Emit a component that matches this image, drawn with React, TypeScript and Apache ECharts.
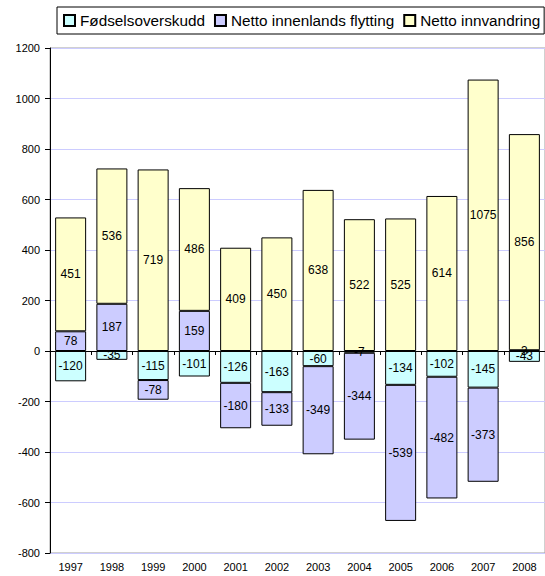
import React, { useEffect, useRef } from "react";
import * as echarts from "echarts";

const years = ["1997", "1998", "1999", "2000", "2001", "2002", "2003", "2004", "2005", "2006", "2007", "2008"];
const fodselsoverskudd = [-120, -35, -115, -101, -126, -163, -60, -7, -134, -102, -145, -43];
const innenlandsFlytting = [78, 187, -78, 159, -180, -133, -349, -344, -539, -482, -373, 3];
const innvandring = [451, 536, 719, 486, 409, 450, 638, 522, 525, 614, 1075, 856];

const seriesNames = ["Fødselsoverskudd", "Netto innenlands flytting", "Netto innvandring"];
const seriesColors = ["#ccffff", "#ccccff", "#ffffcc"];

const FONT = "'Liberation Sans', Arial, sans-serif";

export default function App() {
  const ref = useRef<HTMLDivElement>(null);
  useEffect(() => {
    if (!ref.current) return;
    const chart = echarts.init(ref.current, undefined, { renderer: "svg" });
    const datasets = [fodselsoverskudd, innenlandsFlytting, innvandring];
    chart.setOption({
      animation: false,
      textStyle: { fontFamily: FONT, color: "#000" },
      legend: {
        left: 57,
        top: 7,
        padding: [6, 4, 6, 6],
        itemWidth: 11,
        itemHeight: 11,
        itemGap: 9,
        borderColor: "#000",
        borderWidth: 1,
        icon: "rect",
        textStyle: { fontSize: 15.3, fontFamily: FONT, color: "#000" },
        data: seriesNames,
      },
      grid: {
        left: 50,
        right: 0,
        top: 48,
        bottom: 23,
        show: true,
        borderColor: "#a0a0a0",
        borderWidth: 1,
      },
      xAxis: [
        {
          type: "category",
          data: years,
          position: "bottom",
          axisLine: { show: false, onZero: false },
          axisTick: { show: false },
          axisLabel: { fontSize: 11, color: "#000", margin: 8, fontFamily: FONT },
        },
        {
          type: "category",
          data: years,
          position: "bottom",
          axisLine: { show: true, onZero: true, lineStyle: { color: "#000", width: 1 } },
          axisTick: { show: true, length: 4, lineStyle: { color: "#000" } },
          axisLabel: { show: false },
        },
      ],
      yAxis: {
        type: "value",
        min: -800,
        max: 1200,
        interval: 200,
        axisLine: { show: true, lineStyle: { color: "#000", width: 1 } },
        axisTick: { show: true, length: 5, lineStyle: { color: "#000" } },
        axisLabel: {
          fontSize: 11,
          color: "#000",
          margin: 10,
          fontFamily: FONT,
          formatter: (v: number) => String(v),
        },
        splitLine: { show: true, lineStyle: { color: "#ccccff", width: 1 } },
      },
      series: datasets.map((d, i) => ({
        name: seriesNames[i],
        type: "bar",
        stack: "total",
        xAxisIndex: 0,
        data: d,
        barWidth: 31,
        itemStyle: { color: seriesColors[i], borderColor: "#000", borderWidth: 1 },
        label: {
          show: true,
          position: "inside",
          fontSize: 12,
          color: "#000",
          fontFamily: FONT,
        },
      })),
    });
    return () => chart.dispose();
  }, []);
  return (
    <div
      ref={ref}
      style={{ position: "fixed", left: 0, top: 0, width: 545, height: 576, background: "#fff" }}
    />
  );
}
